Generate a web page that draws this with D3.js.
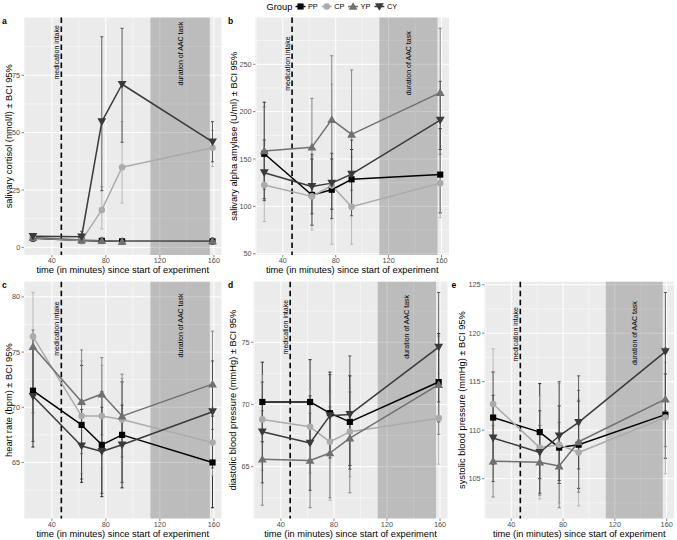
<!DOCTYPE html>
<html>
<head>
<meta charset="utf-8">
<script src="https://cdn.jsdelivr.net/npm/d3@7"></script>
<style>
  html, body { margin: 0; padding: 0; background: #ffffff; }
  svg { display: block; font-family: "Liberation Sans", Arial, sans-serif; }
</style>
</head>
<body>
<svg id="chart" width="677" height="540"></svg>
<script>
// ---------------- DATA ----------------
const groups = ["PP", "CP", "YP", "CY"];
const groupColors = ["#000000", "#ABABAB", "#707070", "#3A3A3A"];
const times = [26, 62, 77, 92, 159];
const medicationTime = 47;
const taskStart = 113;
const taskEnd = 157;
const xTicks = [40, 80, 120, 160];

// a: salivary cortisol
const cortisolMean = {
  PP: [4.0, 3.0, 2.8, 2.6, 2.6],
  CP: [4.2, 3.0, 16.3, 34.9, 43.4],
  YP: [4.3, 3.2, 2.9, 2.6, 2.8],
  CY: [4.8, 4.6, 54.8, 71.1, 46.0]
};
const cortisolLow = {
  PP: [2.5, 2.0, 1.8, 1.7, 1.6],
  CP: [2.8, 1.5, 8.0, 19.3, 35.2],
  YP: [2.8, 2.0, 1.6, 1.4, 1.35],
  CY: [3.5, 2.5, 24.7, 45.8, 37.3]
};
const cortisolHigh = {
  PP: [5.5, 4.0, 3.8, 3.5, 3.6],
  CP: [5.6, 4.5, 26.5, 54.8, 51.0],
  YP: [5.8, 4.4, 4.2, 3.8, 4.2],
  CY: [6.0, 7.0, 91.8, 95.5, 54.8]
};
const cortisolTicks = [0, 25, 50, 75];

// b: salivary alpha amylase
const amylaseMean = {
  PP: [155.5, 112, 117.5, 128.5, 133.5],
  CP: [122.5, 110.5, 122, 99.5, 124.5],
  YP: [158.5, 162.5, 191.5, 176, 220],
  CY: [135.5, 121, 124.5, 134, 191]
};
const amylaseLow = {
  PP: [108, 80, 97, 98, 93],
  CP: [84, 75, 60, 60, 88],
  YP: [118, 115, 127, 117, 155],
  CY: [106, 92, 87, 90, 160]
};
const amylaseHigh = {
  PP: [210, 150, 150, 160, 182],
  CP: [166, 153, 229, 152, 160],
  YP: [205, 214, 259, 244, 288],
  CY: [170, 155, 156, 170, 232]
};
const amylaseTicks = [50, 100, 150, 200, 250];

// c: heart rate
const hrMean = {
  PP: [71.5, 68.4, 66.6, 67.5, 65.0],
  CP: [76.4, 69.2, 69.2, 68.9, 66.8],
  YP: [75.5, 70.5, 71.2, 69.2, 72.1],
  CY: [71.0, 66.5, 66.0, 66.6, 69.6]
};
const hrLow = {
  PP: [66.4, 63.2, 61.9, 62.7, 60.9],
  CP: [72.4, 64.0, 64.5, 65.0, 63.8],
  YP: [69.5, 65.8, 67.5, 65.5, 68.0],
  CY: [66.9, 63.5, 62.2, 63.2, 64.5]
};
const hrHigh = {
  PP: [76.5, 73.8, 71.4, 72.3, 69.2],
  CP: [80.4, 74.2, 73.8, 72.6, 70.0],
  YP: [77.0, 75.2, 74.5, 73.0, 76.9],
  CY: [75.5, 69.8, 70.0, 70.2, 74.2]
};
const hrTicks = [65, 70, 75, 80];

// d: diastolic blood pressure
const dbpMean = {
  PP: [70.2, 70.2, 69.3, 68.6, 71.8],
  CP: [68.8, 68.2, 67.0, 67.8, 68.9],
  YP: [65.6, 65.5, 66.1, 67.3, 71.6],
  CY: [67.8, 66.9, 69.1, 69.2, 74.6]
};
const dbpLow = {
  PP: [67.0, 66.8, 66.0, 65.1, 68.6],
  CP: [64.7, 64.5, 62.3, 64.2, 65.2],
  YP: [61.9, 61.7, 62.5, 62.9, 67.6],
  CY: [63.7, 63.1, 65.7, 64.8, 70.2]
};
const dbpHigh = {
  PP: [73.4, 73.6, 72.6, 72.3, 75.7],
  CP: [72.4, 71.2, 71.0, 71.3, 72.5],
  YP: [69.5, 69.3, 69.8, 71.0, 75.5],
  CY: [71.8, 70.7, 72.4, 73.9, 79.0]
};
const dbpTicks = [65, 70, 75];

// e: systolic blood pressure
const sbpMean = {
  PP: [111.3, 109.8, 108.2, 108.5, 111.6],
  CP: [112.7, 108.2, 108.5, 107.7, 111.3],
  YP: [106.8, 106.7, 106.3, 108.8, 113.2],
  CY: [109.2, 107.7, 109.4, 110.8, 118.1]
};
const sbpLow = {
  PP: [106.5, 105.0, 104.5, 104.0, 107.1],
  CP: [107.0, 102.9, 102.5, 102.2, 105.5],
  YP: [103.1, 103.3, 102.0, 103.6, 108.3],
  CY: [104.7, 103.5, 104.8, 106.0, 112.0]
};
const sbpHigh = {
  PP: [116.0, 114.8, 112.5, 113.0, 115.8],
  CP: [118.4, 113.5, 114.8, 113.2, 117.0],
  YP: [110.5, 110.5, 110.8, 114.1, 118.5],
  CY: [113.6, 112.0, 115.0, 115.6, 124.2]
};
const sbpTicks = [105, 110, 115, 120, 125];

const yTitles = [
  "salivary cortisol (nmol/l) \u00b1 BCI 95%",
  "salivary alpha amylase (U/ml) \u00b1 BCI 95%",
  "heart rate (bpm) \u00b1 BCI 95%",
  "diastolic blood pressure (mmHg) \u00b1 BCI 95%",
  "systolic blood pressure (mmHg) \u00b1 BCI 95%"
];
const panelLetters = ["a", "b", "c", "d", "e"];
const xTitle = "time (in minutes) since start of experiment";
const medLabel = "medication intake";
const taskLabel = "duration of AAC task";
const legendTitle = "Group";
// y value (data units) where the top of each rotated annotation sits
const medLabelTop = [96.9, 279.5, 79.6, 78.4, 122.7];
const taskLabelTop = [98.4, 284.8, 80.3, 78.8, 123.3];

// ---------------- LAYOUT ----------------
const panelData = [
  { mean: cortisolMean, low: cortisolLow, high: cortisolHigh, ticks: cortisolTicks },
  { mean: amylaseMean, low: amylaseLow, high: amylaseHigh, ticks: amylaseTicks },
  { mean: hrMean, low: hrLow, high: hrHigh, ticks: hrTicks },
  { mean: dbpMean, low: dbpLow, high: dbpHigh, ticks: dbpTicks },
  { mean: sbpMean, low: sbpLow, high: sbpHigh, ticks: sbpTicks }
];
const boxes = [
  { x0: 24,    x1: 221.5, y0: 17.5,  y1: 255,   lx: 2,     ly: 23.5, tx: 11.5 },
  { x0: 255.5, x1: 449,   y0: 17.5,  y1: 255,   lx: 228,   ly: 23.5, tx: 236.5 },
  { x0: 24,    x1: 221.5, y0: 281.7, y1: 518.5, lx: 2,     ly: 288,  tx: 11.5 },
  { x0: 253.5, x1: 447.5, y0: 281.7, y1: 518.5, lx: 228,   ly: 288,  tx: 236 },
  { x0: 484.5, x1: 674,   y0: 281.7, y1: 518.5, lx: 451.5, ly: 288,  tx: 465 }
];

const svg = d3.select("#chart");
const FONT_TITLE = 9.3, FONT_TICK = 7.3, FONT_ANN = 7;

function expand(lo, hi) {
  const d = (hi - lo) * 0.05;
  return [lo - d, hi + d];
}

function symbolFor(i) {
  const types = [d3.symbolSquare, d3.symbolCircle, d3.symbolTriangle, d3.symbolTriangle];
  const sizes = [38, 34, 34, 34];
  return d3.symbol().type(types[i]).size(sizes[i])();
}
function symbolTransform(i, x, y) {
  if (i === 2) return `translate(${x},${y + 0.8})`;
  if (i === 3) return `translate(${x},${y - 0.8}) rotate(180)`;
  return `translate(${x},${y})`;
}

panelData.forEach((pd, pi) => {
  const b = boxes[pi];
  const g = svg.append("g");

  const x = d3.scaleLinear()
    .domain(expand(d3.min(times), d3.max(times)))
    .range([b.x0, b.x1]);
  const allLo = d3.min(groups, k => d3.min(pd.low[k]));
  const allHi = d3.max(groups, k => d3.max(pd.high[k]));
  const y = d3.scaleLinear().domain(expand(allLo, allHi)).range([b.y1, b.y0]);

  // background
  g.append("rect").attr("x", b.x0).attr("y", b.y0)
    .attr("width", b.x1 - b.x0).attr("height", b.y1 - b.y0)
    .attr("fill", "#EBEBEB");

  // grid: minor
  const tStep = pd.ticks[1] - pd.ticks[0];
  const yMinor = [];
  for (let v = pd.ticks[0] - tStep / 2; v <= y.domain()[1]; v += tStep) {
    if (v >= y.domain()[0]) yMinor.push(v);
  }
  const xStep = xTicks[1] - xTicks[0];
  const xMinor = [];
  for (let v = xTicks[0] - xStep / 2; v <= x.domain()[1]; v += xStep) {
    if (v >= x.domain()[0]) xMinor.push(v);
  }
  g.selectAll(".ymin").data(yMinor).enter().append("line")
    .attr("x1", b.x0).attr("x2", b.x1)
    .attr("y1", d => y(d)).attr("y2", d => y(d))
    .attr("stroke", "#FFFFFF").attr("stroke-width", 0.5);
  g.selectAll(".xmin").data(xMinor).enter().append("line")
    .attr("y1", b.y0).attr("y2", b.y1)
    .attr("x1", d => x(d)).attr("x2", d => x(d))
    .attr("stroke", "#FFFFFF").attr("stroke-width", 0.5);
  // grid: major
  g.selectAll(".ymaj").data(pd.ticks).enter().append("line")
    .attr("x1", b.x0).attr("x2", b.x1)
    .attr("y1", d => y(d)).attr("y2", d => y(d))
    .attr("stroke", "#FFFFFF").attr("stroke-width", 1);
  g.selectAll(".xmaj").data(xTicks).enter().append("line")
    .attr("y1", b.y0).attr("y2", b.y1)
    .attr("x1", d => x(d)).attr("x2", d => x(d))
    .attr("stroke", "#FFFFFF").attr("stroke-width", 1);

  // task shading
  g.append("rect")
    .attr("x", x(taskStart)).attr("y", b.y0)
    .attr("width", x(taskEnd) - x(taskStart)).attr("height", b.y1 - b.y0)
    .attr("fill", "#000000").attr("fill-opacity", 0.2);

  // medication line
  g.append("line")
    .attr("x1", x(medicationTime)).attr("x2", x(medicationTime))
    .attr("y1", b.y0).attr("y2", b.y1)
    .attr("stroke", "#000000").attr("stroke-width", 1.6)
    .attr("stroke-dasharray", "5.5,3.5");

  // annotations
  g.append("text")
    .attr("transform", `translate(${x(medicationTime) - 2.2},${y(medLabelTop[pi])}) rotate(-90)`)
    .attr("text-anchor", "end")
    .attr("font-size", FONT_ANN).attr("fill", "#000000")
    .text(medLabel);
  g.append("text")
    .attr("transform", `translate(${x((taskStart + taskEnd) / 2) + 2.4},${y(taskLabelTop[pi])}) rotate(-90)`)
    .attr("text-anchor", "end")
    .attr("font-size", FONT_ANN).attr("fill", "#000000")
    .text(taskLabel);

  // error bars
  const cap = 1.6;
  groups.forEach((k, gi) => {
    const col = groupColors[gi];
    const eg = g.append("g").attr("stroke", col).attr("stroke-width", 0.8).attr("fill", "none");
    times.forEach((t, ti) => {
      const cx = x(t), lo = y(pd.low[k][ti]), hi = y(pd.high[k][ti]);
      eg.append("line").attr("x1", cx).attr("x2", cx).attr("y1", lo).attr("y2", hi);
      eg.append("line").attr("x1", cx - cap).attr("x2", cx + cap).attr("y1", lo).attr("y2", lo);
      eg.append("line").attr("x1", cx - cap).attr("x2", cx + cap).attr("y1", hi).attr("y2", hi);
    });
  });

  // lines
  const lineGen = d3.line().x((d, i) => x(times[i])).y(d => y(d));
  groups.forEach((k, gi) => {
    g.append("path").datum(pd.mean[k])
      .attr("d", lineGen)
      .attr("fill", "none").attr("stroke", groupColors[gi])
      .attr("stroke-width", 1.5).attr("stroke-linejoin", "round");
  });

  // points
  groups.forEach((k, gi) => {
    g.selectAll(null).data(pd.mean[k]).enter().append("path")
      .attr("d", symbolFor(gi))
      .attr("transform", (d, i) => symbolTransform(gi, x(times[i]), y(d)))
      .attr("fill", groupColors[gi]);
  });

  // axes ticks
  const tickCol = "#333333", labCol = "#4D4D4D";
  g.selectAll(".yt").data(pd.ticks).enter().append("line")
    .attr("x1", b.x0 - 2.5).attr("x2", b.x0)
    .attr("y1", d => y(d)).attr("y2", d => y(d))
    .attr("stroke", tickCol).attr("stroke-width", 0.6);
  g.selectAll(".yl").data(pd.ticks).enter().append("text")
    .attr("x", b.x0 - 3.8).attr("y", d => y(d) + 2.6)
    .attr("text-anchor", "end").attr("font-size", FONT_TICK).attr("fill", labCol)
    .text(d => d);
  g.selectAll(".xt").data(xTicks).enter().append("line")
    .attr("y1", b.y1).attr("y2", b.y1 + 2.5)
    .attr("x1", d => x(d)).attr("x2", d => x(d))
    .attr("stroke", tickCol).attr("stroke-width", 0.6);
  g.selectAll(".xl").data(xTicks).enter().append("text")
    .attr("x", d => x(d)).attr("y", b.y1 + 8.0)
    .attr("text-anchor", "middle").attr("font-size", FONT_TICK).attr("fill", labCol)
    .text(d => d);

  // axis titles
  g.append("text")
    .attr("x", (b.x0 + b.x1) / 2).attr("y", b.y1 + 18)
    .attr("text-anchor", "middle").attr("font-size", FONT_TITLE).attr("fill", "#000000")
    .text(xTitle);
  g.append("text")
    .attr("transform", `translate(${b.tx},${(b.y0 + b.y1) / 2}) rotate(-90)`)
    .attr("text-anchor", "middle").attr("font-size", FONT_TITLE).attr("fill", "#000000")
    .text(yTitles[pi]);

  // panel letter
  g.append("text").attr("x", b.lx).attr("y", b.ly)
    .attr("font-size", 8.5).attr("font-weight", "bold").attr("fill", "#000000")
    .text(panelLetters[pi]);
});

// ---------------- LEGEND ----------------
const lg = svg.append("g");
const legY = 6.5;
lg.append("text").attr("x", 266.5).attr("y", legY + 3.3)
  .attr("font-size", FONT_TITLE).attr("fill", "#000000").text(legendTitle);
groups.forEach((k, gi) => {
  const kx = 300.5 + gi * 26.3;
  lg.append("line").attr("x1", kx - 5).attr("x2", kx + 5)
    .attr("y1", legY).attr("y2", legY)
    .attr("stroke", groupColors[gi]).attr("stroke-width", 1.5);
  lg.append("path").attr("d", symbolFor(gi))
    .attr("transform", symbolTransform(gi, kx, legY))
    .attr("fill", groupColors[gi]);
  lg.append("text").attr("x", kx + 7.5).attr("y", legY + 2.6)
    .attr("font-size", FONT_TICK).attr("fill", "#000000").text(k);
});
</script>
</body>
</html>
